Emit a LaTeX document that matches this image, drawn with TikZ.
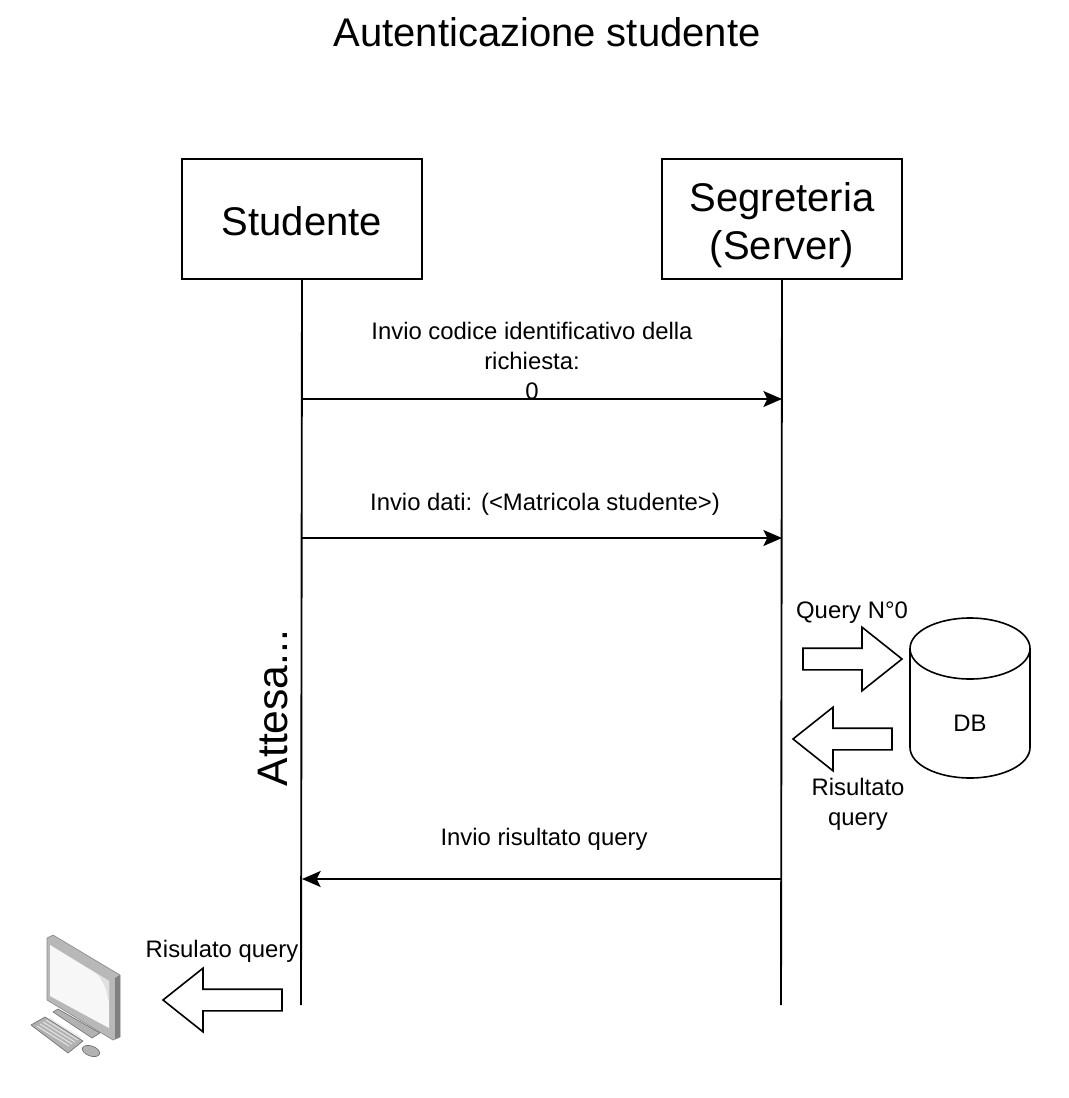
\documentclass[tikz,border=0pt]{standalone}
\usepackage{fontspec}
\setmainfont{Liberation Sans}
\usetikzlibrary{shapes.geometric,shapes.arrows,arrows.meta}

\begin{document}
\begin{tikzpicture}[x=0.75pt, y=-0.75pt, line width=1.4pt,
  font=\fontsize{17.9}{22.5}\selectfont,
  actor/.style={draw, minimum width=180pt, minimum height=90pt, inner sep=0pt},
  message/.style={align=center, inner sep=0pt},
  bigtext/.style={font=\fontsize{30}{36}\selectfont},
  lifeline/.style={line width=1.4pt},
  transfer/.style={-{Stealth[length=14pt, width=12pt, inset=3pt]}},
  blockarrow/.style={draw, single arrow, single arrow head extend=15.75pt, single arrow tip angle=77,
    single arrow head indent=0pt, minimum width=46.5pt, inner xsep=0pt, inner ysep=7.5pt,
    minimum height=74.25pt, line width=1.2pt, outer sep=0pt, anchor=tip},
  database/.style={draw, cylinder, shape border rotate=90, aspect=1.84, minimum width=90pt,
    minimum height=120pt, inner sep=0pt, line width=1.2pt, anchor=shape center},
  screenbody/.style={fill=black!28, draw=black!45, line width=0.5pt, line join=round},
  keypart/.style={fill=black!30, draw=black!55, line width=0.5pt, line join=round},
]
\useasboundingbox (0,0) rectangle (1068,1098);

\node[message, bigtext] (title) at (547,32) {Autenticazione studente};
\node[actor] (studente) at (302,219) {};
\node[actor] (segreteria) at (782,219) {};
\node[message, bigtext] (studentetext) at (302,221) {Studente};
\node[message, bigtext] (segreteriatext) at (782,225) {Segreteria\\(Server)};

\coordinate (studenteend) at (301,1005);
\coordinate (segreteriaend) at (781,1005);
\draw[lifeline] (studente.south) -- (studenteend);
\draw[lifeline] (segreteria.south) -- (segreteriaend);

\coordinate (codicefrom) at (302,399);
\coordinate (codiceto) at (782,399);
\coordinate (datifrom) at (302,538);
\coordinate (datito) at (782,538);
\coordinate (rispostafrom) at (782,879);
\coordinate (rispostato) at (302,879);
\draw[transfer] (codicefrom) -- (codiceto);
\draw[transfer] (datifrom) -- (datito);
\draw[transfer] (rispostafrom) -- (rispostato);

\node[message] (codice) at (532,361) {Invio codice identificativo della\\richiesta:\\0};
\node[message] (dati) at (545,504) {Invio dati: (<Matricola studente>)};
\node[message] (risposta) at (544,839) {Invio risultato query};
\node[message, rotate=90, font=\fontsize{32}{36}\selectfont] (attesa) at (273,708) {Attesa...};

\node[database] (db) at (970,698) {\phantom{DB}};
\node[message] (dbtext) at (970,723) {DB};
\node[blockarrow] (queryarrow) at (902,659) {};
\node[blockarrow, shape border rotate=180] (resultarrow) at (793,739) {};
\node[blockarrow, shape border rotate=180, minimum height=89.25pt] (screenarrow) at (163,1000) {};
\node[message] (query) at (852,613) {Query N°0};
\node[message] (result) at (858,804) {Risultato\\query};
\node[message] (screen) at (222,951) {Risulato query};

% computer
\path[keypart] (53,1012) -- (58,1009) -- (100,1033) -- (92,1038) -- cycle;
\path[screenbody] (47,938) -- (53,935) -- (120,975) -- (120,1037) -- (113,1040) -- (47,1000) -- cycle;
\fill[black!50] (115,978) -- (120,975) -- (120,1037) -- (115,1039) -- cycle;
\fill[black!3] (50,945) -- (109,981) -- (109,1028) -- (50,996) -- cycle;
\fill[black!12] (97,974) .. controls (104,982) and (107,990) .. (108,1000) -- (109,1000) -- (109,981) -- cycle;
\path[keypart] (31,1025) -- (45,1017) -- (83,1041) -- (68,1053) -- cycle;
\foreach \k in {0,...,4}
  \draw[black!10, line width=0.7pt] (37+3*\k,1026-2*\k) -- (69+3*\k,1046-2*\k);
\path[keypart, rotate around={-20:(91,1051)}] (91,1051) ellipse (9 and 5);
\end{tikzpicture}
\end{document}
